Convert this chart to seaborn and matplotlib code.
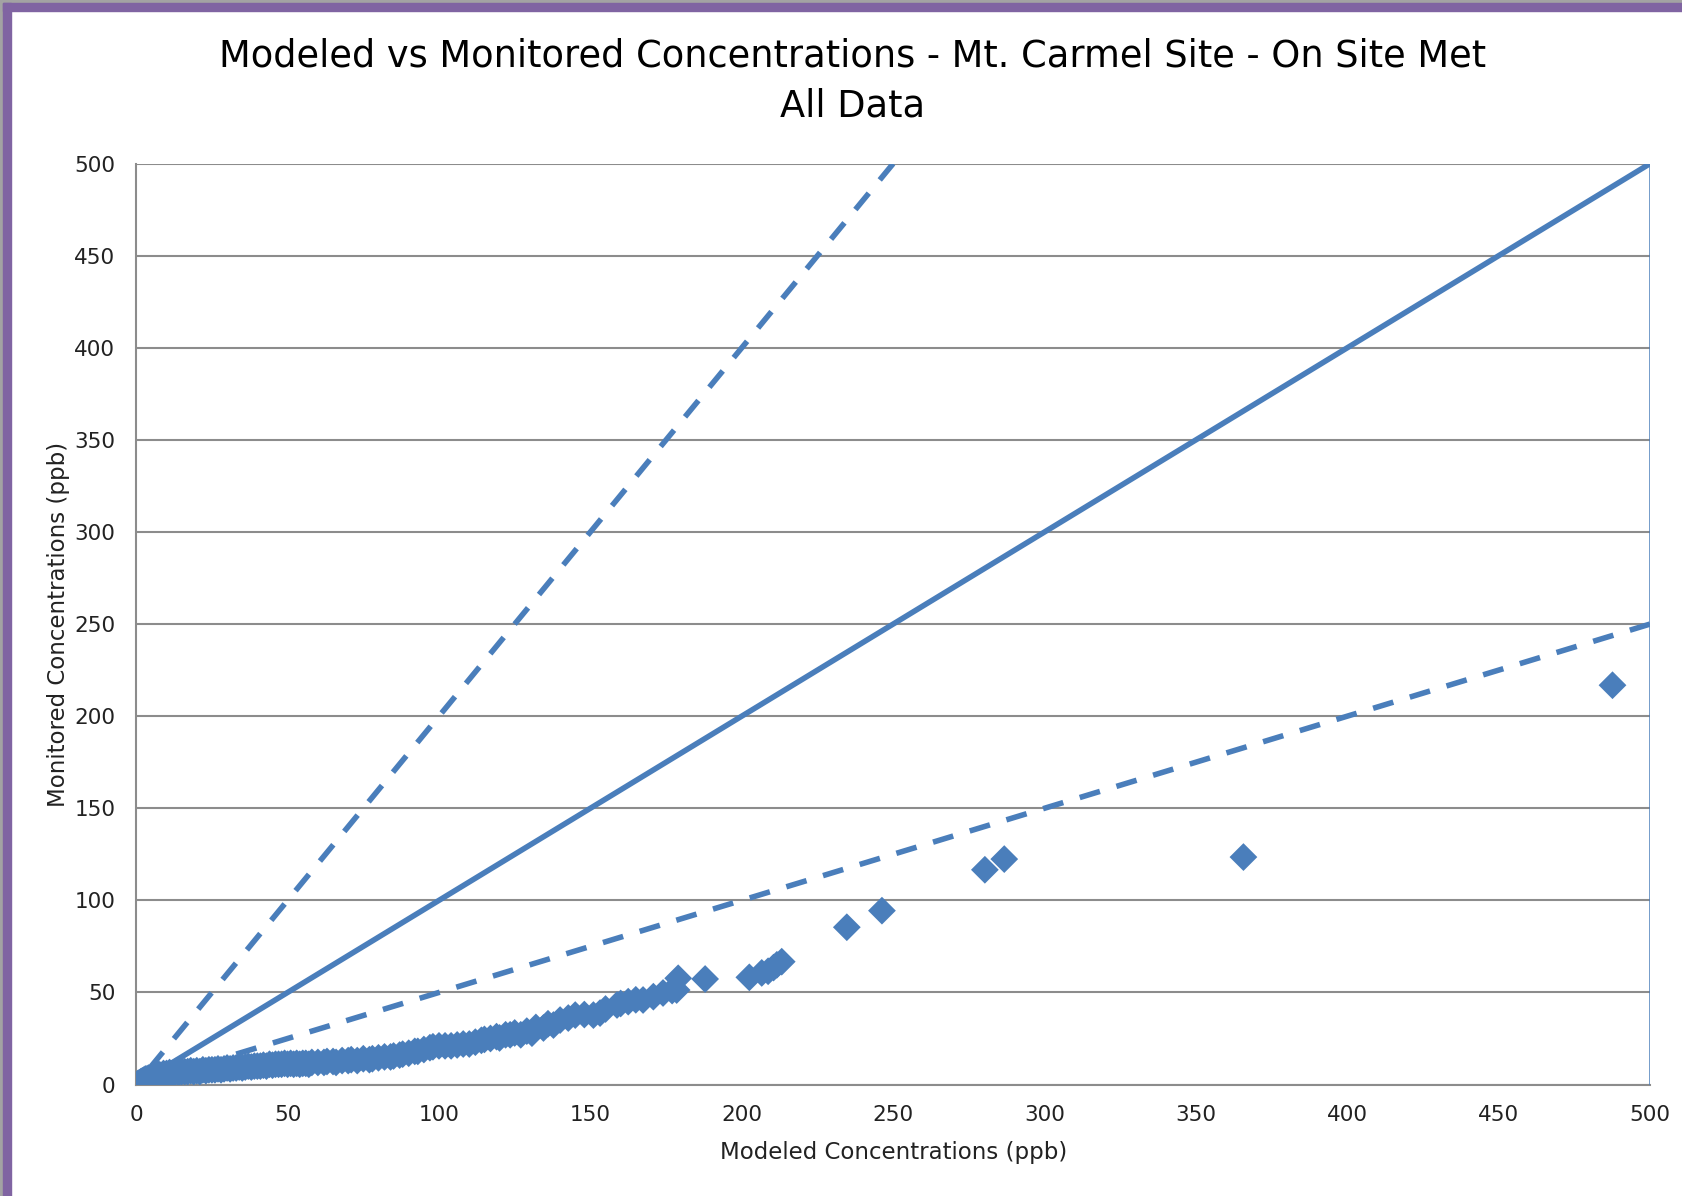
import matplotlib
matplotlib.use("Agg")
import matplotlib.pyplot as plt
import seaborn as sns
import pandas as pd
from matplotlib.patches import Rectangle

# Modeled (x) vs monitored (y) concentrations, ppb
modeled = [
    0, 0.5, 1, 1.5, 2, 2.5, 3, 3.5, 4, 5, 5.5, 6, 7, 7.5, 8, 9, 10, 11, 12, 13,
    14, 15, 16, 17, 18, 19, 20, 21, 22, 23, 24, 25, 26, 27, 28, 29, 30, 31, 32, 33,
    34, 35, 36, 37, 38, 39, 40, 41, 42, 43, 44, 45, 46, 47, 48, 49, 50, 51, 52, 53,
    54, 55, 56, 57, 58, 60, 62, 63, 65, 66, 68, 70, 71, 73, 75, 77, 78, 80, 82, 84,
    85, 87, 88, 90, 92, 93, 95, 97, 98, 100, 102, 104, 106, 108, 110, 112, 114, 115, 117, 119,
    120, 122, 123.5, 125, 127, 129, 130.7, 132, 134.5, 136, 137.8, 140, 142.7, 145, 148, 151, 153.2, 155, 158.8, 160,
    162.5, 165, 167.4, 170.8, 174, 177, 178.5, 179, 187.9, 202.5, 206.6, 208.7, 210.5, 211.6, 213.2, 234.7,
    246.3, 280.3, 286.7, 365.7, 487.6,
]
monitored = [
    0, 0.5, 1, 1.5, 2, 2.4, 3, 3, 3.5, 4, 4.5, 5, 5, 5.5, 5, 6, 6, 6.5, 6, 7,
    6.5, 7, 7, 7, 7.5, 7, 7.5, 7, 8, 7.5, 8, 8, 8, 8.5, 8, 8.5, 9, 8.5, 9, 9,
    9.5, 9, 9.5, 10, 9.5, 10, 10, 10, 10.5, 10, 11, 10.5, 11, 11, 11, 11.5, 11, 11.5, 11, 11.5,
    11, 11.5, 11.5, 11, 12, 12, 12, 12.5, 12.5, 12, 13, 13, 13.5, 13, 14, 13.5, 14, 14.5, 15, 15,
    15.5, 16, 16.5, 17, 18, 18, 19, 20, 20.5, 21, 21, 21, 21.5, 22, 22, 23, 24, 24.5, 25, 26,
    25.3, 27, 27, 28, 27, 29, 27.9, 31, 30.7, 33, 32.3, 35, 36.1, 37.7, 38, 37.7, 38.8, 41, 43.2, 44,
    45, 46, 45.9, 47.7, 49.7, 51, 51.3, 57.7, 57.3, 58.2, 60.6, 61.5, 63.5, 65, 66.7, 85.4,
    94.4, 116.6, 122.4, 123.5, 216.8,
]

# reference lines: 1:1, factor-of-two bounds, and the right edge
one_to_one_x = [0, 500]
one_to_one_y = [0, 500]
upper_x = [250, 0]
upper_y = [500, 0]
lower_x = [500, 0]
lower_y = [250, 0]
edge_x = [500, 500]
edge_y = [500, 0]

ticks = [0, 50, 100, 150, 200, 250, 300, 350, 400, 450, 500]

blue = "#4A7EBB"
grid_gray = "#8C8C8C"

sns.set_style("white")
plt.rcParams["font.family"] = ["DejaVu Sans"]

fig = plt.figure(figsize=(16.82, 11.96), dpi=100)
ax = fig.add_axes([0.081, 0.0932, 0.900, 0.770])

df = pd.DataFrame({"modeled": modeled, "monitored": monitored})

dash = (0, (3.8, 3.1))
sns.lineplot(x=upper_x, y=upper_y, ax=ax, color=blue, linewidth=4.0,
             linestyle=dash, estimator=None, sort=False, zorder=3)
sns.lineplot(x=one_to_one_x, y=one_to_one_y, ax=ax, color=blue, linewidth=4.0,
             estimator=None, sort=False, zorder=3)
sns.lineplot(x=lower_x, y=lower_y, ax=ax, color=blue, linewidth=4.0,
             linestyle=dash, estimator=None, sort=False, zorder=3)
sns.lineplot(x=edge_x, y=edge_y, ax=ax, color=blue, linewidth=1.8,
             estimator=None, sort=False, zorder=3)
sns.scatterplot(data=df, x="modeled", y="monitored", ax=ax, marker="D",
                s=200, color=blue, edgecolor="none", linewidth=0, zorder=4)

ax.set_xlim(0, 500)
ax.set_ylim(0, 500)
ax.set_xticks(ticks)
ax.set_yticks(ticks)
ax.set_xticklabels([str(t) for t in ticks])
ax.set_yticklabels([str(t) for t in ticks])
ax.grid(axis="y", color=grid_gray, linewidth=1.5)
ax.grid(axis="x", visible=False)
ax.set_axisbelow(True)
for side in ["top", "right"]:
    ax.spines[side].set_visible(False)
for side in ["left", "bottom"]:
    ax.spines[side].set_color(grid_gray)
    ax.spines[side].set_linewidth(1.5)
ax.tick_params(axis="both", direction="out", length=6, width=1.5, color=grid_gray,
               labelsize=15.5, labelcolor="#222222", pad=9)
ax.set_xlabel("Modeled Concentrations (ppb)", fontsize=16.5, color="#222222", labelpad=11)
ax.set_ylabel("Monitored Concentrations (ppb)", fontsize=16.5, color="#222222", labelpad=3)

fig.text(0.507, 0.932, "Modeled vs Monitored Concentrations - Mt. Carmel Site - On Site Met\nAll Data",
         ha="center", va="center", fontsize=26.5, linespacing=1.45, color="black")

# purple chart-area frame on the left and top edges
W, H = 1682, 1196
fig.patches.append(Rectangle((0, 0), 3 / W, 1, transform=fig.transFigure, color="#A3A3A3", zorder=0))
fig.patches.append(Rectangle((3 / W, 0), 8 / W, 1 - 3 / H, transform=fig.transFigure, color="#8064A2", zorder=1))
fig.patches.append(Rectangle((0, 1 - 3 / H), 1, 3 / H, transform=fig.transFigure, color="#A3A3A3", zorder=0))
fig.patches.append(Rectangle((3 / W, 1 - 11 / H), 1 - 3 / W, 8 / H, transform=fig.transFigure, color="#8064A2", zorder=1))

fig.savefig("out.png", dpi=100)
